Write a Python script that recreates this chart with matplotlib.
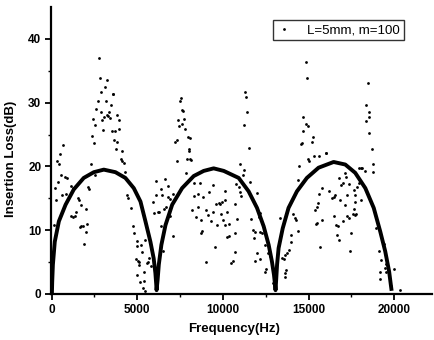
import matplotlib
matplotlib.use("Agg")
import matplotlib.pyplot as plt

plt.rcParams['font.family'] = ['Liberation Sans', 'DejaVu Sans']

# measured points (frequency in Hz, insertion loss in dB)
freq = [2760, 2800, 3210, 3110, 2860, 3600, 3560, 2700, 3170, 3460, 2620, 2880, 3360, 3210, 3300,
        3070, 2410, 2950, 3400, 3850, 3910, 2560, 3010, 3540, 3730, 3960, 2350, 2470, 3650, 3810,
        3750, 4100, 660, 470, 4080, 330, 430, 2310, 4220,
        7540, 7480, 7640, 7680, 7390, 7750, 7600, 7440, 7790, 7950, 8080, 7330, 7230, 8010, 8030,
        7910, 8060, 7310, 8120, 7850,
        14870, 14930, 11270, 11350, 11390, 11250, 14650, 14830, 14980, 14690, 15250, 15210, 14600,
        11500, 15330, 18440, 18330, 18540, 18500, 18330, 18540, 18710, 16010, 15580, 11020, 14560,
        14980, 16030, 14460, 18730, 18070, 11210, 11160,
        570, 780, 890, 350, 175, 1110, 1240, 820, 620, 290, 1520, 1600, 1710, 2140, 2180, 2560,
        4100, 4310, 4390, 4470, 4660, 2020, 1440, 1360, 1150, 1260, 1730, 1650, 1810, 2060, 2000,
        1920, 4740, 4820, 5010, 4990, 4940, 5090, 5010, 130, 80,
        6100, 6610, 6390, 6820, 6070, 6450, 6800, 6900, 7110, 5900, 6200, 6300, 5960, 6550, 6690,
        6920, 6410, 7070, 5480, 5250, 5290, 5710, 5060, 5130, 5560, 5640, 5830, 5380, 5150, 5380,
        5330, 5480, 6490,
        8320, 8550, 8840, 8650, 8300, 9400, 10100, 9210, 8200, 8550, 9020, 9130, 9430, 9620, 9750,
        9850, 9970, 10140, 8450, 8750, 9330, 9660, 9910, 9990, 8780, 8700, 9560, 9000, 10220, 10380,
        11600, 10770, 10920, 10980, 11080, 11980, 10730, 10240, 10830, 11660, 10140, 10330, 10730,
        12180, 12080, 11740, 11850, 12140, 12280, 12380, 11800, 12440, 10690, 11990, 10470, 10570,
        11890, 12180, 12710, 12630, 12730, 12530, 12480, 12900, 13310, 13450, 13540, 13640, 13760,
        13700, 13640, 13600, 13880, 13970, 14070, 14180, 13970, 14380, 14280, 14380, 15000, 15390,
        15550, 15430,
        18110, 18270, 18740, 17960, 16790, 17180, 17140, 16980, 16910, 17330, 17820, 17920, 15780,
        16210, 17630, 17720, 16460, 16370, 16560, 15620, 17240, 16850, 18050, 17720, 15490, 17100,
        17630, 17570, 17680, 17760, 17240, 17330, 16460, 15780, 15490, 16600, 16710, 16980, 18950,
        17490, 16660, 16750, 19280, 19380, 15690, 17430, 19080, 19240, 19510, 19430, 19530, 20000,
        19180, 19180, 19810, 20350]
loss = [37.0, 33.9, 33.6, 32.4, 31.6, 31.4, 31.3, 30.2, 30.3, 29.6, 29.0, 28.6, 28.5, 28.1, 27.9,
        27.8, 27.5, 27.3, 27.6, 28.1, 27.3, 26.5, 25.7, 25.5, 25.5, 25.8, 24.7, 23.6, 24.1, 23.8,
        22.8, 22.5, 23.3, 21.9, 21.2, 20.9, 20.4, 20.4, 20.5,
        30.7, 30.2, 28.9, 28.7, 27.3, 27.5, 26.7, 26.3, 25.8, 24.6, 24.5, 24.2, 23.8, 22.8, 22.5,
        21.2, 21.2, 20.9, 21.0, 19.0,
        36.4, 33.9, 31.6, 30.9, 28.6, 26.5, 27.8, 26.7, 26.3, 25.5, 24.6, 23.9, 23.6,
        22.9, 21.6, 33.1, 29.6, 28.5, 27.7, 27.2, 25.3, 22.8, 22.1, 21.6, 20.4, 23.5,
        21.2, 22.1, 20.1, 20.4, 19.8, 19.5, 18.6,
        18.7, 18.4, 18.2, 17.6, 16.6, 17.0, 16.6, 15.7, 15.6, 14.8, 15.1, 14.7, 14.0, 16.7, 16.5, 18.6,
        20.9, 19.2, 15.5, 15.0, 13.5, 13.4, 12.9, 12.3, 12.2, 12.1, 10.7, 10.5, 10.7, 11.0, 9.7,
        7.8, 10.7, 9.5, 8.3, 7.6, 5.5, 4.6, 3.0, 10.8, 6.4,
        17.7, 18.1, 16.5, 17.0, 15.6, 15.6, 15.2, 14.9, 15.7, 14.4, 12.9, 12.8, 12.7, 13.3, 13.6,
        12.3, 10.7, 9.1, 8.5, 7.7, 6.6, 5.7, 5.1, 5.0, 4.8, 5.0, 4.4, 3.5, 1.9, 2.0,
        0.9, 0.5, 6.8,
        15.3, 15.7, 15.2, 17.4, 17.4, 17.1, 16.1, 16.0, 13.2, 13.6, 13.1, 12.4, 12.9, 14.1, 14.3,
        14.1, 14.5, 14.7, 12.0, 11.6, 11.4, 10.8, 12.5, 11.6, 9.9, 9.5, 7.4, 5.0, 8.9, 9.1,
        17.6, 17.3, 16.7, 16.0, 15.3, 15.8, 14.1, 12.8, 11.8, 11.8, 10.8, 11.0, 9.5,
        12.7, 12.0, 10.1, 9.7, 9.7, 9.6, 10.3, 8.8, 7.7, 6.6, 6.4, 4.8, 5.2,
        5.1, 5.5, 6.9, 6.4, 5.9, 3.9, 3.5, 1.7, 11.9, 5.6, 5.5, 6.1, 6.4,
        3.8, 3.3, 2.6, 6.9, 8.1, 12.6, 11.9, 9.3, 9.8, 11.6, 17.8, 20.8, 13.2,
        14.3, 11.0,
        19.7, 19.3, 19.2, 19.8, 18.2, 18.4, 19.0, 17.4, 17.1, 17.3, 16.7, 17.4, 16.6,
        16.2, 16.3, 15.6, 15.2, 15.0, 15.5, 15.7, 15.5, 14.8, 14.7, 14.5, 13.7, 13.9,
        13.4, 12.5, 12.4, 12.5, 12.2, 11.9, 12.3, 11.6, 11.1, 10.8, 10.7, 11.5, 10.4,
        9.5, 9.2, 8.5, 8.3, 7.8, 7.4, 6.8, 6.7, 5.3, 4.7, 4.0, 3.5, 3.9,
        3.5, 2.3, 1.3, 0.6]

# theoretical curve
curve_f = [25, 40, 80, 190, 430, 820, 1300, 1880, 2470, 3050, 3730, 4310, 4800, 5190, 5480, 5770,
           5960, 6060, 6110, 6130, 6190, 6260, 6410, 6650, 7040, 7620, 8300, 8880, 9460, 10050,
           10920, 11500, 11990, 12380, 12670, 12860, 12980, 13040, 13070, 13110, 13160, 13250,
           13490, 13830, 14320, 14900, 15580, 16460, 17140, 17720, 18310, 18800, 19180, 19470,
           19700, 19800, 19830]
curve_il = [0.3, 1.9, 4.6, 8.2, 11.4, 14.0, 16.4, 18.2, 19.1, 19.5, 19.1, 18.2, 16.6, 14.5, 11.4, 8.2,
            5.6, 3.3, 1.5, 0.6, 2.2, 4.6, 7.7, 10.8, 14.0, 16.6, 18.5, 19.3, 19.7, 19.3,
            18.2, 16.1, 13.5, 10.6, 7.7, 5.1, 3.0, 1.5, 0.6, 2.3, 4.6, 7.2,
            10.3, 13.5, 16.1, 18.2, 19.8, 20.7, 20.3, 19.0, 16.6, 13.5, 9.8, 6.7,
            3.5, 1.4, 0.8]

fig = plt.figure(figsize=(4.34, 3.4), dpi=100)
ax = fig.add_axes([51 / 434, 46 / 340, 381 / 434, 287 / 340])

ax.plot(freq, loss, 'o', color='black', ms=2.0, mew=0, label="L=5mm, m=100")
ax.plot(curve_f, curve_il, color='black', lw=2.8, solid_joinstyle='round')

ax.set_xlim(-30, 22200)
ax.set_ylim(0, 45)
ax.set_xticks([0, 5000, 10000, 15000, 20000])
ax.set_xticks([2500, 7500, 12500, 17500], minor=True)
ax.set_yticks([0, 10, 20, 30, 40])
ax.set_yticks([5, 15, 25, 35], minor=True)

for side in ['top', 'right']:
    ax.spines[side].set_visible(False)
for side in ['left', 'bottom']:
    ax.spines[side].set_linewidth(1.6)

ax.tick_params(which='major', direction='out', length=4, width=1.3, labelsize=8.5, pad=3)
ax.tick_params(which='minor', direction='out', length=2.5, width=1.0)
for lab in ax.get_xticklabels() + ax.get_yticklabels():
    lab.set_fontweight('bold')

ax.set_xlabel("Frequency(Hz)", fontsize=9.5, fontweight='bold')
ax.set_ylabel("Insertion Loss(dB)", fontsize=9.5, fontweight='bold')
ax.xaxis.set_label_coords(0.48, -0.1)
ax.yaxis.set_label_coords(-0.088, 0.47)

leg = ax.legend(loc='upper right', bbox_to_anchor=(404 / 434, 1 - 20 / 340),
                bbox_transform=fig.transFigure, fontsize=9.5, frameon=True, fancybox=False,
                handlelength=1.0, handletextpad=1.3, borderpad=0.3, markerscale=1.0,
                borderaxespad=0)
leg.get_frame().set_edgecolor('black')
leg.get_frame().set_linewidth(1.0)

plt.savefig("out.png", dpi=100)
